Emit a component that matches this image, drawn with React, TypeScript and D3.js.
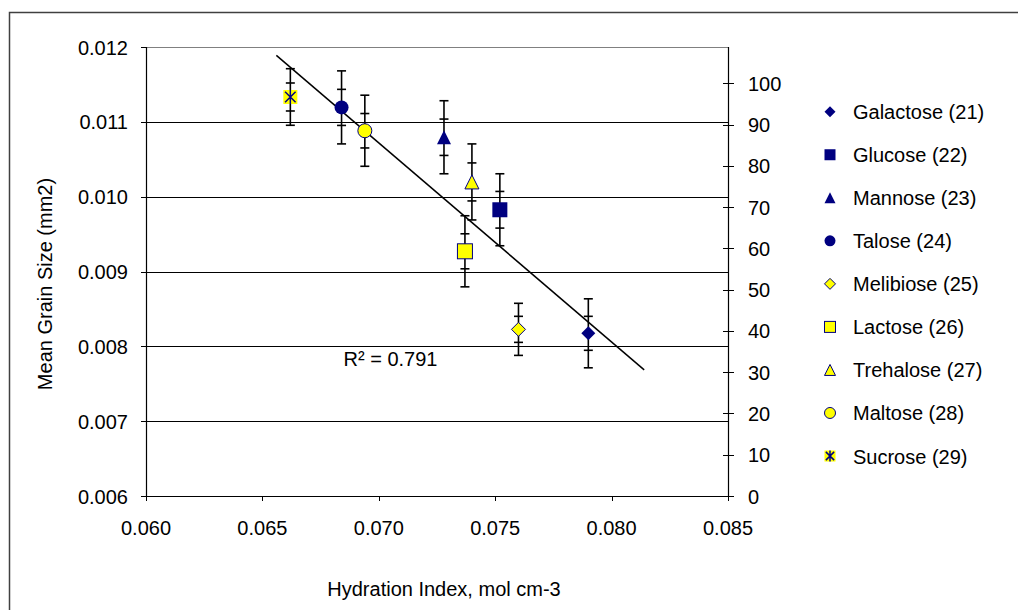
import React from "react";
import * as d3 from "d3";

const seriesNames = [
  "Galactose (21)", "Glucose (22)", "Mannose (23)", "Talose (24)",
  "Melibiose (25)", "Lactose (26)", "Trehalose (27)", "Maltose (28)", "Sucrose (29)",
];
const shapes = ["diamond", "square", "triangle", "circle", "diamond", "square", "triangle", "circle", "star"];
const fills = ["#000080", "#000080", "#000080", "#000080", "#FFFF00", "#FFFF00", "#FFFF00", "#FFFF00", "#FFFF00"];
const hydration = [0.0790, 0.0752, 0.0728, 0.0684, 0.0760, 0.0737, 0.0740, 0.0694, 0.0662];
const grainSize = [0.008174, 0.009825, 0.010794, 0.011193, 0.008227, 0.009270, 0.010197, 0.010881, 0.011332];
const errOuter = [0.000461, 0.000481, 0.000488, 0.000488, 0.000348, 0.000475, 0.000508, 0.000475, 0.000378];
const errInner = [0.000227, 0.000245, 0.000243, 0.000241, 0.000174, 0.000234, 0.000254, 0.000230, 0.000187];

const xTicks = [0.060, 0.065, 0.070, 0.075, 0.080, 0.085];
const yTicks = [0.006, 0.007, 0.008, 0.009, 0.010, 0.011, 0.012];
const y2Ticks = [0, 10, 20, 30, 40, 50, 60, 70, 80, 90, 100];
const trendRange = [0.0656, 0.0814];
const r2Label = "R² = 0.791";
const xTitle = "Hydration Index, mol cm-3";
const yTitle = "Mean Grain Size (mm2)";

const FONT = "'Liberation Sans', Arial, sans-serif";
const NAVY = "#000080";

function Marker({ shape, fill, cx, cy, s }: { shape: string; fill: string; cx: number; cy: number; s: number }) {
  const h = s / 2;
  const stroke = fill === NAVY ? "none" : NAVY;
  if (shape === "diamond") {
    return <path d={`M${cx},${cy - h}L${cx + h},${cy}L${cx},${cy + h}L${cx - h},${cy}Z`} fill={fill} stroke={stroke} strokeWidth={1} />;
  }
  if (shape === "square") {
    return <rect x={cx - h} y={cy - h} width={s} height={s} fill={fill} stroke={stroke} strokeWidth={1} />;
  }
  if (shape === "triangle") {
    return <path d={`M${cx},${cy - h}L${cx + h},${cy + h}L${cx - h},${cy + h}Z`} fill={fill} stroke={stroke} strokeWidth={1} />;
  }
  if (shape === "circle") {
    return <circle cx={cx} cy={cy} r={h} fill={fill} stroke={stroke} strokeWidth={1} />;
  }
  const a = h * 0.75;
  return (
    <g>
      <rect x={cx - h} y={cy - h} width={s} height={s} fill={fill} />
      <path d={`M${cx - a},${cy - a}L${cx + a},${cy + a}M${cx + a},${cy - a}L${cx - a},${cy + a}M${cx},${cy - h}L${cx},${cy + h}`} stroke={NAVY} strokeWidth={1.5} fill="none" />
    </g>
  );
}

export default function App() {
  const left = 146, right = 728, top = 47, bottom = 496;
  const x = d3.scaleLinear().domain([0.060, 0.085]).range([left, right]);
  const y = d3.scaleLinear().domain([0.006, 0.012]).range([bottom, top]);
  const y2 = d3.scaleLinear().domain([0, 108.8]).range([bottom, top]);
  const fmt = d3.format(".3f");

  const pts = hydration.map((h, i) => [h, grainSize[i]] as [number, number]);
  const mx = d3.mean(pts, (p) => p[0])!;
  const my = d3.mean(pts, (p) => p[1])!;
  const sxy = d3.sum(pts, (p) => (p[0] - mx) * (p[1] - my));
  const sxx = d3.sum(pts, (p) => (p[0] - mx) ** 2);
  const slope = sxy / sxx;
  const icpt = my - slope * mx;
  const trendLine = d3.line<number>().x((v) => x(v)).y((v) => y(icpt + slope * v))(trendRange);

  const legendX = 830, legendY0 = 111.7, legendStep = 43.04;

  return (
    <svg width={1018} height={610} style={{ position: "absolute", left: 0, top: 0, background: "#fff" }} fontFamily={FONT}>
      <rect x={0} y={0} width={1018} height={610} fill="#fff" />
      <rect x={9.5} y={12.5} width={1100} height={700} fill="none" stroke="#404040" strokeWidth={1.5} />

      {/* gridlines */}
      {yTicks.slice(1, -1).map((t) => (
        <line key={t} x1={left} x2={right} y1={Math.round(y(t)) + 0.5} y2={Math.round(y(t)) + 0.5} stroke="#000" strokeWidth={1} />
      ))}
      <line x1={left} x2={right} y1={top + 0.5} y2={top + 0.5} stroke="#808080" strokeWidth={1} />

      {/* axes */}
      <line x1={left + 0.5} x2={left + 0.5} y1={top} y2={bottom} stroke="#000" strokeWidth={1.2} />
      <line x1={left} x2={right} y1={bottom + 0.5} y2={bottom + 0.5} stroke="#000" strokeWidth={1.2} />
      <line x1={right + 0.5} x2={right + 0.5} y1={top} y2={bottom} stroke="#000" strokeWidth={1.2} />

      {yTicks.map((t) => (
        <g key={t}>
          <line x1={left - 5} x2={left} y1={Math.round(y(t)) + 0.5} y2={Math.round(y(t)) + 0.5} stroke="#000" />
          <text x={128} y={y(t) + 7.5} fontSize={20} textAnchor="end">{fmt(t)}</text>
        </g>
      ))}
      {xTicks.map((t) => (
        <g key={t}>
          <line x1={Math.round(x(t)) + 0.5} x2={Math.round(x(t)) + 0.5} y1={bottom} y2={bottom + 5} stroke="#000" />
          <text x={x(t)} y={535} fontSize={20} textAnchor="middle">{fmt(t)}</text>
        </g>
      ))}
      {y2Ticks.map((t) => (
        <g key={t}>
          <line x1={right - 5} x2={right + 6} y1={Math.round(y2(t)) + 0.5} y2={Math.round(y2(t)) + 0.5} stroke="#000" />
          <text x={748} y={y2(t) + 7.5} fontSize={20} textAnchor="start">{t}</text>
        </g>
      ))}

      {/* trendline */}
      <path d={trendLine!} stroke="#000" strokeWidth={1.5} fill="none" />
      <text x={390.5} y={366} fontSize={20} textAnchor="middle">{r2Label}</text>

      {/* error bars */}
      {pts.map((p, i) => {
        const cx = x(p[0]);
        return (
          <g key={"e" + i} stroke="#000" strokeWidth={1.6}>
            <line x1={cx} x2={cx} y1={y(p[1] + errOuter[i])} y2={y(p[1] - errOuter[i])} />
            {[errOuter[i], -errOuter[i], errInner[i], -errInner[i]].map((e, k) => (
              <line key={k} x1={cx - 4.5} x2={cx + 4.5} y1={y(p[1] + e)} y2={y(p[1] + e)} />
            ))}
          </g>
        );
      })}

      {/* markers */}
      {pts.map((p, i) => (
        <Marker key={"m" + i} shape={shapes[i]} fill={fills[i]} cx={x(p[0])} cy={y(p[1])} s={shapes[i] === "square" ? 15 : 14} />
      ))}

      {/* legend */}
      {seriesNames.map((n, i) => {
        const cy = legendY0 + i * legendStep;
        return (
          <g key={n}>
            <Marker shape={shapes[i]} fill={fills[i]} cx={legendX} cy={cy} s={11} />
            <text x={853} y={cy + 7.5} fontSize={20}>{n}</text>
          </g>
        );
      })}

      {/* titles */}
      <text x={444} y={596} fontSize={20} textAnchor="middle">{xTitle}</text>
      <text transform={`translate(52,${284}) rotate(-90)`} fontSize={20} textAnchor="middle">{yTitle}</text>
    </svg>
  );
}
